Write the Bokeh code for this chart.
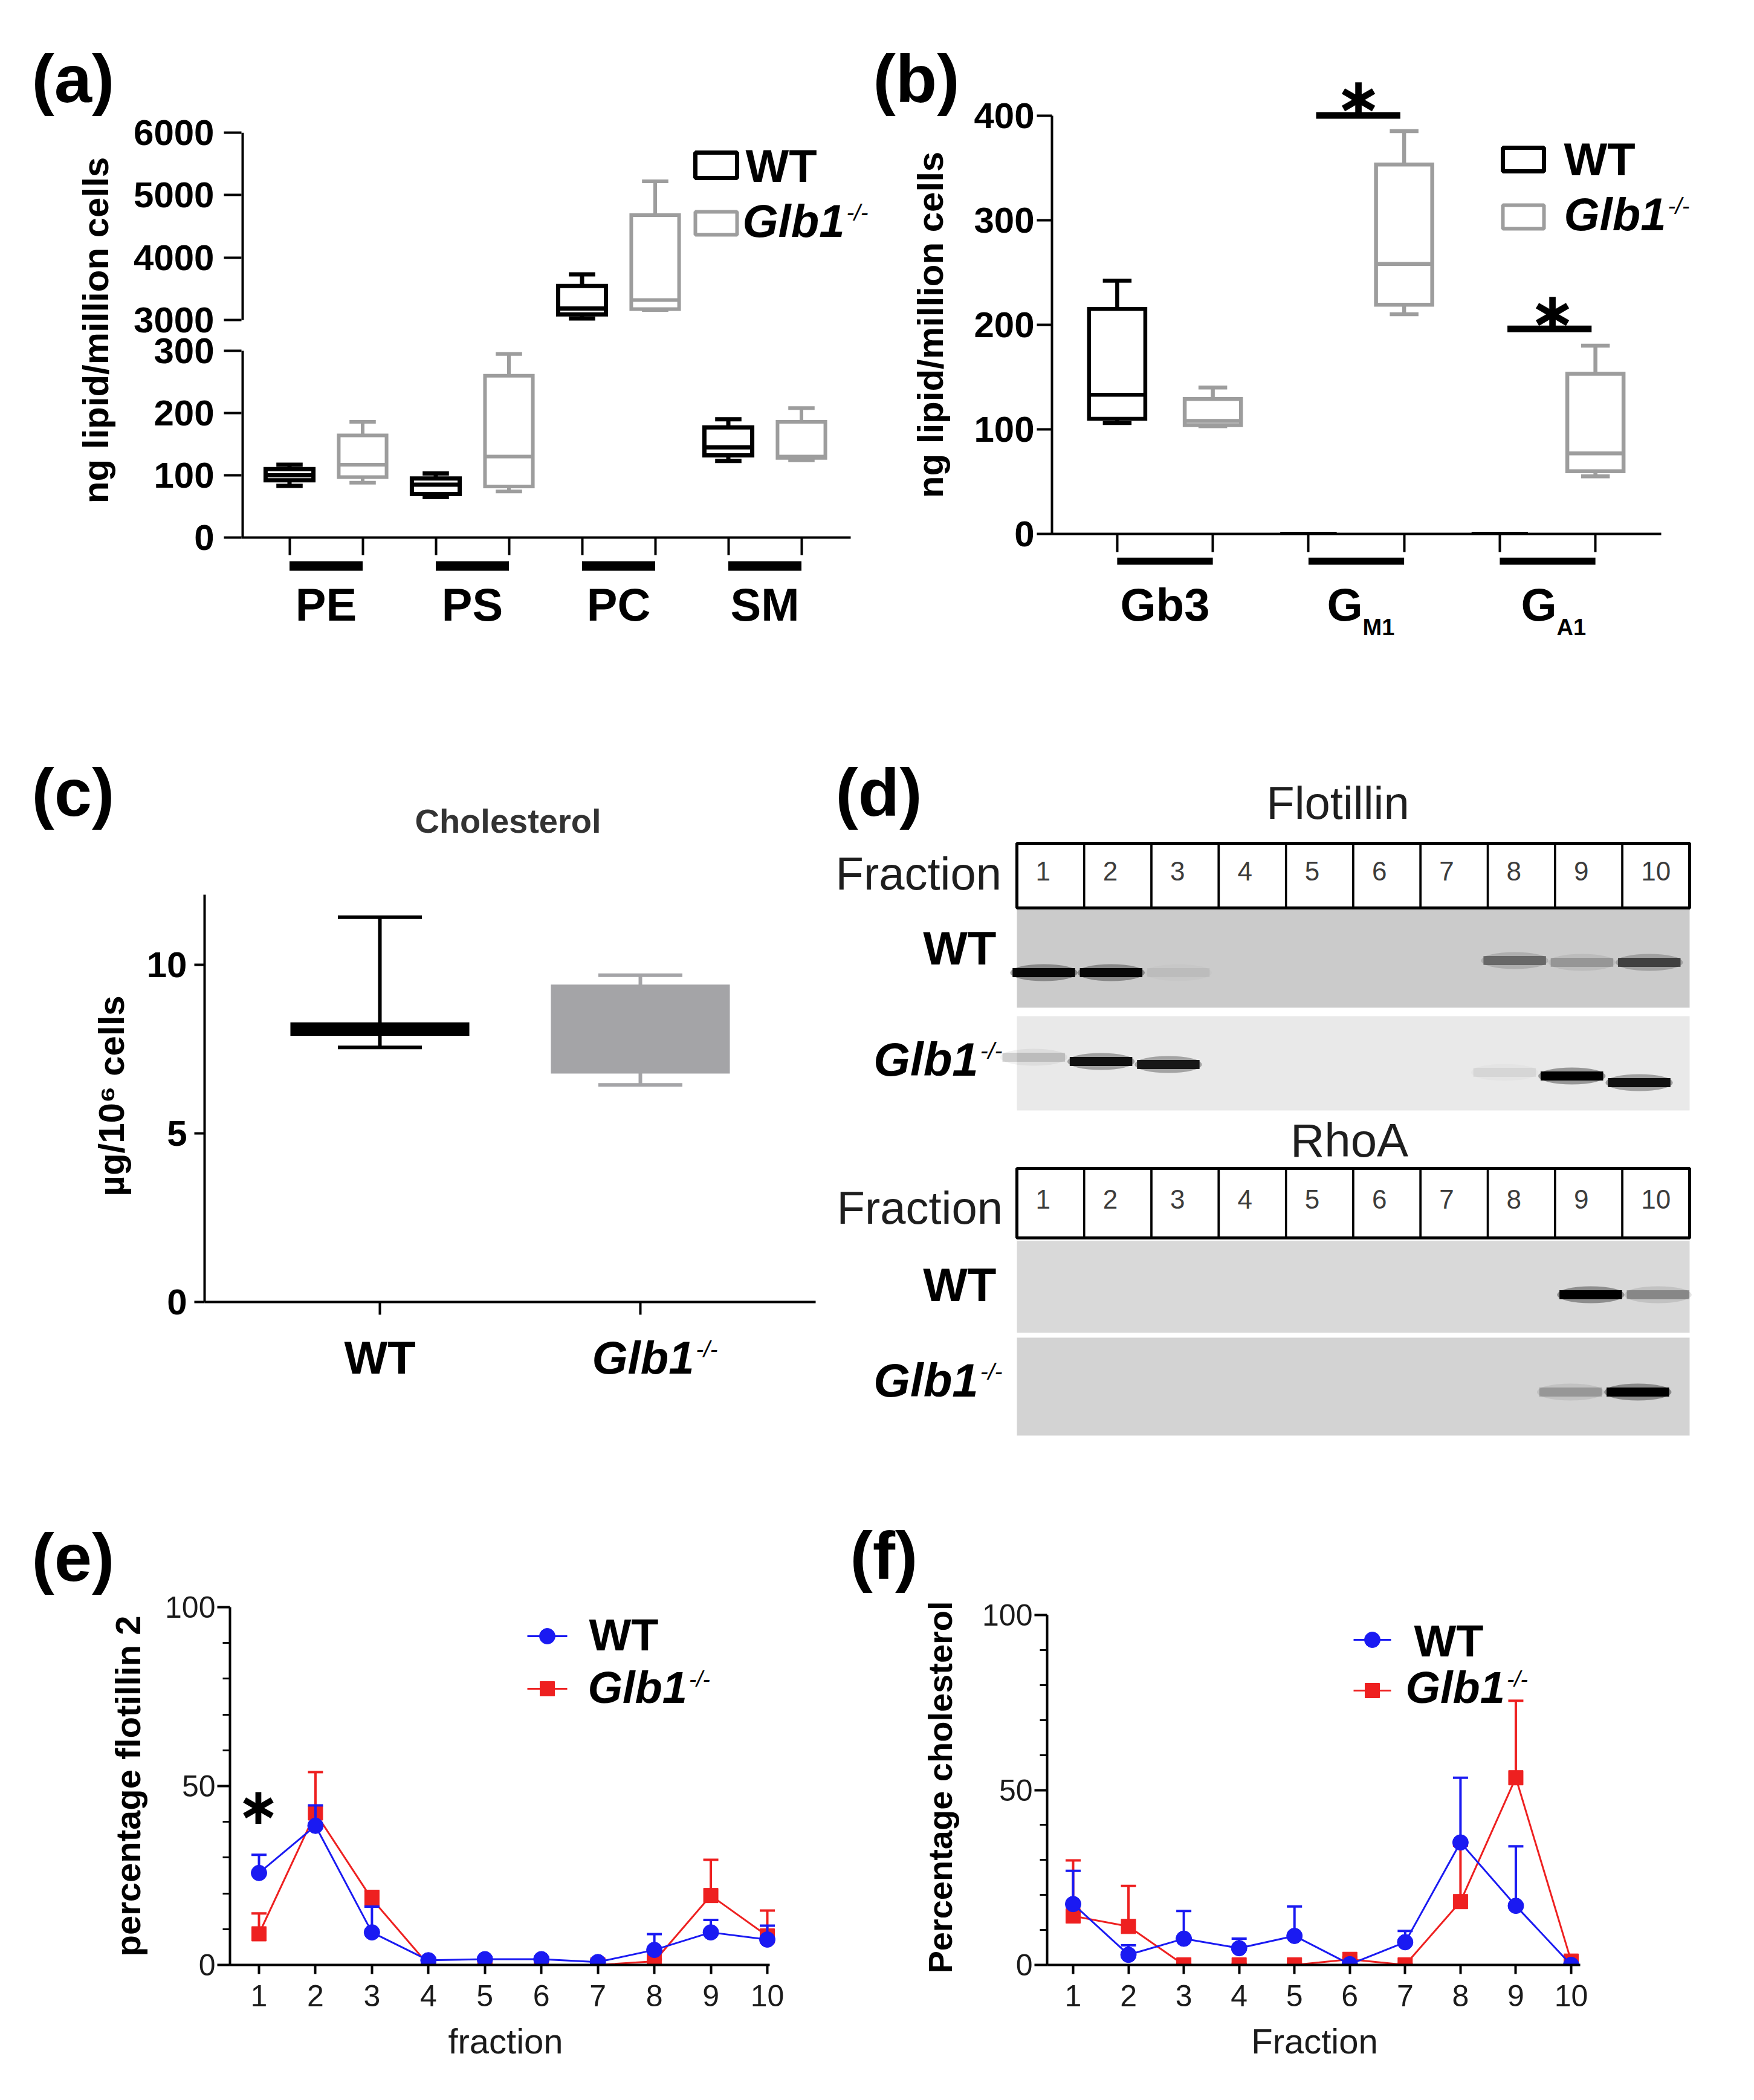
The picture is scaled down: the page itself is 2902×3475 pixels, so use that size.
import numpy as np
from bokeh.plotting import figure
from bokeh.models import Range1d, Label, FixedTicker, ColumnDataSource
from bokeh.layouts import row, column
from bokeh.embed import file_html
from bokeh.resources import INLINE

FONT = "Liberation Sans"
BLACK = "#000000"
GREY = "#9d9d9d"
BOXGREY = "#a4a4a7"
BLUE = "#1a1af2"
RED = "#ee2020"
STAR = "\u2217"

# ============================== DATA ==============================
# (a) phospholipids: five-number summaries (ng lipid / million cells)
lipid_classes = ["PE", "PS", "PC", "SM"]
lipid_wt_min = [83, 65, 3025, 123]
lipid_wt_q1 = [92, 70, 3090, 132]
lipid_wt_med = [100, 85, 3185, 145]
lipid_wt_q3 = [110, 95, 3545, 177]
lipid_wt_max = [117, 103, 3730, 190]
lipid_ko_min = [88, 74, 3160, 124]
lipid_ko_q1 = [97, 82, 3175, 128]
lipid_ko_med = [117, 130, 3320, 130]
lipid_ko_q3 = [164, 260, 4680, 186]
lipid_ko_max = [186, 295, 5220, 208]
lipid_ticks_upper = [3000, 4000, 5000, 6000]
lipid_ticks_lower = [0, 100, 200, 300]

# (b) glycosphingolipids
gsl_wt_min = [106, 0, 0]
gsl_wt_q1 = [110, 0, 0]
gsl_wt_med = [133, 0, 0]
gsl_wt_q3 = [215, 0, 0]
gsl_wt_max = [242, 0, 0]
gsl_ko_min = [103, 210, 55]
gsl_ko_q1 = [104, 219, 60]
gsl_ko_med = [108, 258, 77]
gsl_ko_q3 = [129, 353, 153]
gsl_ko_max = [140, 385, 180]
gsl_ticks = [0, 100, 200, 300, 400]
gsl_sig_groups = [2, 3]
gsl_sig_y = [400, 196]

# (c) cholesterol (ug / 10^6 cells)
chol_min = [7.55, 6.44]
chol_q1 = [7.95, 6.83]
chol_med = [8.10, 8.60]
chol_q3 = [8.24, 9.36]
chol_max = [11.41, 9.69]
chol_ticks = [0, 5, 10]

# (d) western blot band intensities per fraction (0 = none, 1 = strongest)
fractions = [1, 2, 3, 4, 5, 6, 7, 8, 9, 10]
flotillin_wt_band = [0.95, 0.95, 0.05, 0.0, 0.0, 0.0, 0.0, 0.40, 0.20, 0.60]
flotillin_ko_band = [0.15, 0.90, 0.85, 0.0, 0.0, 0.0, 0.0, 0.06, 1.00, 0.90]
rhoa_wt_band = [0.0, 0.0, 0.0, 0.0, 0.0, 0.0, 0.0, 0.0, 1.00, 0.30]
rhoa_ko_band = [0.0, 0.0, 0.0, 0.0, 0.0, 0.0, 0.0, 0.0, 0.22, 1.00]

# (e) percentage flotillin 2 per fraction (mean, upper error)
flot_wt_mean = [25.7, 38.9, 9.1, 1.3, 1.6, 1.6, 0.8, 4.2, 9.1, 7.1]
flot_wt_err = [5.1, 5.7, 7.2, 0.5, 0.5, 0.5, 0.5, 4.4, 3.5, 3.9]
flot_ko_mean = [8.7, 42.5, 18.4, 0.0, 0.0, 0.0, 0.0, 1.0, 19.4, 8.1]
flot_ko_err = [5.7, 11.4, 2.3, 0.3, 0.3, 0.3, 0.3, 0.5, 10.0, 7.1]

# (f) percentage cholesterol per fraction (mean, upper error)
cholf_wt_mean = [17.4, 2.9, 7.5, 4.8, 8.3, 0.2, 6.5, 35.0, 16.9, 0.0]
cholf_wt_err = [9.5, 2.7, 7.9, 2.7, 8.4, 0.5, 3.2, 18.5, 17.0, 0.5]
cholf_ko_mean = [14.0, 11.0, 0.0, 0.0, 0.0, 1.6, 0.0, 18.1, 53.5, 1.1]
cholf_ko_err = [15.9, 11.6, 0.3, 0.3, 0.3, 0.5, 0.3, 16.0, 22.0, 0.8]
pct_ticks = [0, 50, 100]
pct_minor = [10, 20, 30, 40, 60, 70, 80, 90]


# ============================== HELPERS ==============================
class Geo:
    """Frame geometry in page pixels plus the data values at the frame edges."""
    def __init__(s, fx0, fx1, fy0, fy1, x0, x1, y0, y1):
        s.fx0, s.fx1, s.fy0, s.fy1 = fx0, fx1, fy0, fy1
        s.x0, s.x1, s.y0, s.y1 = x0, x1, y0, y1

    def X(s, px):
        return s.x0 + (px - s.fx0) * (s.x1 - s.x0) / (s.fx1 - s.fx0)

    def Y(s, py):
        return s.y0 + (s.fy1 - py) * (s.y1 - s.y0) / (s.fy1 - s.fy0)

    def PX(s, x):
        return s.fx0 + (x - s.x0) * (s.fx1 - s.fx0) / (s.x1 - s.x0)

    def W(s, dpx):
        return dpx * (s.x1 - s.x0) / (s.fx1 - s.fx0)


def make_fig(g, cx0, cx1, cy0, cy1, xaxis=True, yaxis=True):
    p = figure(frame_width=g.fx1 - g.fx0, frame_height=g.fy1 - g.fy0,
               min_border_left=g.fx0 - cx0, min_border_right=cx1 - g.fx1,
               min_border_top=g.fy0 - cy0, min_border_bottom=cy1 - g.fy1,
               x_range=Range1d(g.x0, g.x1), y_range=Range1d(g.y0, g.y1),
               x_axis_location="below" if xaxis else None,
               y_axis_location="left" if yaxis else None,
               output_backend="svg", toolbar_location=None)
    p.outline_line_color = None
    p.xgrid.grid_line_color = None
    p.ygrid.grid_line_color = None
    p.background_fill_color = "white"
    p.border_fill_color = "white"
    return p


def text_fig(cx0, cx1, cy0, cy1):
    g = Geo(cx0, cx1, cy0, cy1, cx0, cx1, cy1, cy0)
    return make_fig(g, cx0, cx1, cy0, cy1, xaxis=False, yaxis=False), g


def style_axis(ax, lw, tick_out, size, bold, standoff, color="black"):
    ax.axis_line_color = "black"
    ax.axis_line_width = lw
    ax.major_tick_line_color = "black"
    ax.major_tick_line_width = lw
    ax.major_tick_out = tick_out
    ax.major_tick_in = 0
    ax.minor_tick_line_color = None
    ax.major_label_text_font = FONT
    ax.major_label_text_font_size = f"{size}px"
    ax.major_label_text_font_style = "bold" if bold else "normal"
    ax.major_label_text_color = color
    ax.major_label_standoff = standoff


def lab(p, g, px, py, text, size, style="normal", align="left",
        baseline="alphabetic", color="black", angle=0.0, font=FONT):
    """Text at page position; for 'alphabetic', py is the baseline."""
    if baseline == "alphabetic":
        py = py - 0.35 * size
        baseline = "middle"
    p.add_layout(Label(x=g.X(px), y=g.Y(py), text=text, text_font=font,
                       text_font_size=f"{size}px", text_font_style=style,
                       text_align=align, text_baseline=baseline,
                       text_color=color, angle=angle))


GLB_EM = 2.223   # advance of "Glb1" in bold italic, in em


def glb(p, g, px_left, py_base, size, color="black"):
    lab(p, g, px_left, py_base, "Glb1", size, "bold italic", color=color)
    lab(p, g, px_left + GLB_EM * size + 3, py_base - 0.36 * size, "-/-",
        0.5 * size, "italic", color=color)


def glb_width(size):
    return GLB_EM * size + 3 + 0.944 * 0.5 * size


def draw_boxes(p, xs, mn, q1, md, q3, mx, color, lw, box_w, cap_w, fill=None,
               **extra):
    hb, hc = box_w / 2, cap_w / 2
    src = ColumnDataSource(dict(
        x=xs, l=[x - hb for x in xs], r=[x + hb for x in xs],
        cl=[x - hc for x in xs], cr=[x + hc for x in xs],
        mn=mn, q1=q1, md=md, q3=q3, mx=mx))
    kw = dict(source=src, line_color=color, line_width=lw, **extra)
    p.segment("x", "q3", "x", "mx", **kw)
    p.segment("x", "q1", "x", "mn", **kw)
    p.segment("cl", "mx", "cr", "mx", **kw)
    p.segment("cl", "mn", "cr", "mn", **kw)
    p.quad(left="l", right="r", bottom="q1", top="q3", fill_color=fill,
           line_join="miter", **kw)
    p.segment("l", "md", "r", "md", **kw)


def draw_series(p, xs, mean, err, color, marker, msize, cap_w):
    top = [m + e for m, e in zip(mean, err)]
    src = ColumnDataSource(dict(x=xs, m=mean, t=top,
                                cl=[x - cap_w / 2 for x in xs],
                                cr=[x + cap_w / 2 for x in xs]))
    p.segment("x", "m", "x", "t", source=src, line_color=color, line_width=4)
    p.segment("cl", "t", "cr", "t", source=src, line_color=color, line_width=4)
    p.line("x", "m", source=src, line_color=color, line_width=3)
    p.scatter("x", "m", source=src, marker=marker, size=msize,
              fill_color=color, line_color=color)


def hidden_label_axis(ax, ticks, tick_out, start, end):
    ax.ticker = FixedTicker(ticks=ticks)
    style_axis(ax, 4, tick_out, 2, True, 0)
    ax.major_label_text_color = None
    ax.bounds = (start, end)


# ============================== (a) ==============================
p_aL, g_aL = text_fig(8, 215, 8, 1150)
lab(p_aL, g_aL, 60, 177, "(a)", 112, "bold")
lab(p_aL, g_aL, 166, 554, "ng lipid/million cells", 60, "bold",
    align="center", baseline="middle", angle=np.pi / 2)

A_PX = 242.0
a_x0 = 1 - (547 - 407) / A_PX
a_x1 = a_x0 + (1450 - 407) / A_PX
a_axis_end = a_x0 + (1415 - 407) / A_PX
lipid_groups = [i + 1 for i in range(len(lipid_classes))]
lipid_wt_x = [g - 0.25 for g in lipid_groups]
lipid_ko_x = [g + 0.25 for g in lipid_groups]

# broken axis: lower segment 0-300 (page 897..588), upper 3000-6000 (537..227)
LO_TOP = 300 * (897 - 227) / (897 - 588)
UP_START = 3000 - 3000 * (897 - 537) / (537 - 227)
g_a = Geo(407, 1450, 227, 897, a_x0, a_x1, 0, LO_TOP)
p_a = make_fig(g_a, 215, 1450, 8, 936)
p_a.extra_y_ranges = {"upper": Range1d(UP_START, 6000)}


def upper_to_lower(v):
    return (v - UP_START) / (6000 - UP_START) * LO_TOP


lo_idx = [i for i, v in enumerate(lipid_wt_max) if v <= 300]
up_idx = [i for i, v in enumerate(lipid_wt_max) if v > 300]
for idx, extra in ((lo_idx, {}), (up_idx, {"y_range_name": "upper"})):
    pick = lambda arr: [arr[i] for i in idx]
    draw_boxes(p_a, pick(lipid_wt_x), pick(lipid_wt_min), pick(lipid_wt_q1),
               pick(lipid_wt_med), pick(lipid_wt_q3), pick(lipid_wt_max),
               BLACK, 7, 0.327, 0.18, **extra)
    draw_boxes(p_a, pick(lipid_ko_x), pick(lipid_ko_min), pick(lipid_ko_q1),
               pick(lipid_ko_med), pick(lipid_ko_q3), pick(lipid_ko_max),
               GREY, 6, 0.327, 0.18, **extra)

ya = p_a.yaxis[0]
up_pos = [upper_to_lower(v) for v in lipid_ticks_upper]
ya.ticker = FixedTicker(ticks=lipid_ticks_lower + up_pos)
ya.major_label_overrides = {pos: str(v) for pos, v in zip(up_pos, lipid_ticks_upper)}
ya.bounds = (0, LO_TOP)
style_axis(ya, 4, 29, 60, True, 16)
ya.axis_line_color = None
# the two axis segments with the break between them
p_a.segment(x0=[a_x0], y0=[0], x1=[a_x0], y1=[300], line_color=BLACK, line_width=8)
p_a.segment(x0=[a_x0], y0=[3000], x1=[a_x0], y1=[6000], line_color=BLACK,
            line_width=8, y_range_name="upper")
hidden_label_axis(p_a.xaxis[0], sorted(lipid_wt_x + lipid_ko_x), 29,
                  a_x0, a_axis_end)

# legend
p_a.quad(left=[g_a.X(1158)], right=[g_a.X(1227)], top=[g_a.Y(260)],
         bottom=[g_a.Y(302)], fill_color=None, line_color=BLACK, line_width=7)
p_a.quad(left=[g_a.X(1158)], right=[g_a.X(1227)], top=[g_a.Y(358)],
         bottom=[g_a.Y(396)], fill_color=None, line_color=GREY, line_width=6)
lab(p_a, g_a, 1241, 309, "WT", 76, "bold")
glb(p_a, g_a, 1236, 400, 76)

# group bars + category names under the axis (same frame columns as above)
g_astr = Geo(407, 1450, 936, 1150, a_x0, a_x1, 1150, 936)
p_astr = make_fig(g_astr, 215, 1450, 936, 1150, xaxis=False, yaxis=False)
bar_a = ColumnDataSource(dict(wx=lipid_wt_x, kx=lipid_ko_x))
p_astr.segment("wx", 944, "kx", 944, source=bar_a, line_color=BLACK, line_width=16)
for gx, name in zip(lipid_groups, lipid_classes):
    lab(p_astr, g_astr, g_astr.PX(gx), 1035, name, 76, "bold", align="center")

# ============================== (b) ==============================
p_bL, g_bL = text_fig(1450, 1600, 8, 1150)
lab(p_bL, g_bL, 1452, 177, "(b)", 112, "bold")
lab(p_bL, g_bL, 1547, 545, "ng lipid/million cells", 60, "bold",
    align="center", baseline="middle", angle=np.pi / 2)

B_PX = 316.5
B_PY = 692.5 / 400
b_x0 = 1 - (1935 - 1748) / B_PX
b_x1 = b_x0 + (2894 - 1748) / B_PX
b_axis_end = b_x0 + (2756 - 1748) / B_PX
gsl_groups = [1, 2, 3]
gsl_wt_x = [g - 0.25 for g in gsl_groups]
gsl_ko_x = [g + 0.25 for g in gsl_groups]

g_b = Geo(1748, 2894, 129, 891, b_x0, b_x1, 0, (891 - 129) / B_PY)
p_b = make_fig(g_b, 1600, 2894, 8, 930)
draw_boxes(p_b, gsl_wt_x, gsl_wt_min, gsl_wt_q1, gsl_wt_med, gsl_wt_q3,
           gsl_wt_max, BLACK, 6.5, 0.294, 0.15)
draw_boxes(p_b, gsl_ko_x, gsl_ko_min, gsl_ko_q1, gsl_ko_med, gsl_ko_q3,
           gsl_ko_max, GREY, 6.5, 0.294, 0.15)
ybb = p_b.yaxis[0]
ybb.ticker = FixedTicker(ticks=gsl_ticks)
ybb.bounds = (0, 400)
style_axis(ybb, 4, 25, 60, True, 4)
hidden_label_axis(p_b.xaxis[0], sorted(gsl_wt_x + gsl_ko_x), 30, b_x0, b_axis_end)

sig = ColumnDataSource(dict(x0=[g - 0.21 for g in gsl_sig_groups],
                            x1=[g + 0.23 for g in gsl_sig_groups],
                            y=gsl_sig_y))
p_b.segment("x0", "y", "x1", "y", source=sig, line_color=BLACK, line_width=11)

p_b.quad(left=[g_b.X(2494)], right=[g_b.X(2562)], top=[g_b.Y(252)],
         bottom=[g_b.Y(291)], fill_color=None, line_color=BLACK, line_width=7)
p_b.quad(left=[g_b.X(2494)], right=[g_b.X(2562)], top=[g_b.Y(347)],
         bottom=[g_b.Y(386)], fill_color=None, line_color=GREY, line_width=6)
lab(p_b, g_b, 2595, 298, "WT", 76, "bold")
glb(p_b, g_b, 2595, 389, 76)
lab(p_b, g_b, 2255, 170, STAR, 92, "bold", align="center", baseline="middle",
    font="DejaVu Sans")
lab(p_b, g_b, 2576, 525, STAR, 92, "bold", align="center", baseline="middle",
    font="DejaVu Sans")

g_bstr = Geo(1748, 2894, 930, 1150, b_x0, b_x1, 1150, 930)
p_bstr = make_fig(g_bstr, 1600, 2894, 930, 1150, xaxis=False, yaxis=False)
bar_b = ColumnDataSource(dict(wx=gsl_wt_x, kx=gsl_ko_x))
p_bstr.segment("wx", 936, "kx", 936, source=bar_b, line_color=BLACK, line_width=12)
lab(p_bstr, g_bstr, g_bstr.PX(1), 1035, "Gb3", 76, "bold", align="center")
lab(p_bstr, g_bstr, 2203, 1035, "G", 76, "bold")
lab(p_bstr, g_bstr, 2262, 1059, "M1", 38, "bold")
lab(p_bstr, g_bstr, 2524, 1035, "G", 76, "bold")
lab(p_bstr, g_bstr, 2583, 1059, "A1", 38, "bold")

# ============================== (c) ==============================
p_cL, g_cL = text_fig(8, 235, 1150, 2460)
lab(p_cL, g_cL, 60, 1358, "(c)", 112, "bold")
lab(p_cL, g_cL, 192, 1821, "\u00b5g/10\u2076 cells", 60, "bold",
    align="center", baseline="middle", angle=np.pi / 2)

C_PX = 431.0
C_PY = (2162 - 1604) / 10.0
c_x0 = 1 - (636 - 346) / C_PX
c_x1 = c_x0 + (1375 - 346) / C_PX
c_axis_end = c_x0 + (1357 - 346) / C_PX
g_c = Geo(346, 1375, 1290, 2162, c_x0, c_x1, 0, (2162 - 1290) / C_PY)
p_c = make_fig(g_c, 235, 1375, 1150, 2212)
draw_boxes(p_c, [1], [chol_min[0]], [chol_q1[0]], [chol_med[0]], [chol_q3[0]],
           [chol_max[0]], BLACK, 6, 0.673, 0.3225, fill=BLACK)
draw_boxes(p_c, [2], [chol_min[1]], [chol_q1[1]], [chol_med[1]], [chol_q3[1]],
           [chol_max[1]], BOXGREY, 6, 0.673, 0.3225, fill=BOXGREY)
ycc = p_c.yaxis[0]
ycc.ticker = FixedTicker(ticks=chol_ticks)
ycc.bounds = (0, (2162 - 1488) / C_PY)
style_axis(ycc, 4, 17, 60, True, 12)
hidden_label_axis(p_c.xaxis[0], [1, 2], 21, c_x0, c_axis_end)
lab(p_c, g_c, 848, 1386, "Cholesterol", 56, "bold", align="center", color="#333333")

g_cstr = Geo(346, 1375, 2212, 2460, c_x0, c_x1, 2460, 2212)
p_cstr = make_fig(g_cstr, 235, 1375, 2212, 2460, xaxis=False, yaxis=False)
lab(p_cstr, g_cstr, g_cstr.PX(1), 2281, "WT", 76, "bold", align="center")
glb(p_cstr, g_cstr, 987, 2281, 76)

# ============================== (d) ==============================
CELL = 111.3
g_d = Geo(1375, 2894, 1150, 2460, 0.5 - (1690 - 1375) / CELL,
          0.5 + (2894 - 1690) / CELL, 2460, 1150)
p_d = make_fig(g_d, 1375, 2894, 1150, 2460, xaxis=False, yaxis=False)

lanes = [  # (top, bottom, colour, lane x shift, band y, intensities)
    (1513, 1675, "#cbcbcb", -0.10, [1617, 1617, 1617, 1615, 1612, 1608, 1604, 1597, 1600, 1600], flotillin_wt_band),
    (1689, 1845, "#e9e9e9", -0.25, [1757, 1764, 1769, 1772, 1775, 1777, 1779, 1782, 1788, 1799], flotillin_ko_band),
    (2061, 2213, "#d9d9d9", 0.03, [2150] * 10, rhoa_wt_band),
    (2221, 2383, "#d3d3d3", -0.27, [2311] * 10, rhoa_ko_band),
]
for top, bot, col, shift, ys, inten in lanes:
    p_d.quad(left=[0.5], right=[10.5], top=[top], bottom=[bot],
             fill_color=col, line_color=None)
    src = ColumnDataSource(dict(x=[f + shift for f in fractions], y=ys,
                                a=inten, a2=[0.35 * v for v in inten]))
    p_d.ellipse(x="x", y="y", width=1.0, height=28, source=src,
                fill_color="black", fill_alpha="a2", line_color=None)
    p_d.rect(x="x", y="y", width=0.93, height=15, source=src,
             fill_color="black", fill_alpha="a", line_color=None)

for ttop, tbot, nbase in ((1403, 1510, 1464), (1941, 2056, 2007)):
    cells = ColumnDataSource(dict(l=[f - 0.5 for f in fractions],
                                  r=[f + 0.5 for f in fractions]))
    p_d.quad(left="l", right="r", top=ttop, bottom=tbot, source=cells,
             fill_color="white", line_color="black", line_width=3.5)
    p_d.quad(left=[0.5], right=[10.5], top=[ttop], bottom=[tbot],
             fill_color=None, line_color="black", line_width=5)
    for f in fractions:
        lab(p_d, g_d, g_d.PX(f - 0.5) + 31, nbase, str(f), 44, color="#3c3c3c")

lab(p_d, g_d, 1390, 1358, "(d)", 112, "bold")
lab(p_d, g_d, 2221, 1363, "Flotillin", 76, align="center", color="#1e1e1e")
lab(p_d, g_d, 2240, 1922, "RhoA", 78, align="center", color="#1e1e1e")
lab(p_d, g_d, 1390, 1480, "Fraction", 76, color="#1e1e1e")
lab(p_d, g_d, 1392, 2033, "Fraction", 76, color="#1e1e1e")
lab(p_d, g_d, 1656, 1604, "WT", 78, "bold", align="right")
lab(p_d, g_d, 1656, 2161, "WT", 78, "bold", align="right")
glb(p_d, g_d, 1666 - glb_width(78), 1788, 78)
glb(p_d, g_d, 1666 - glb_width(78), 2319, 78)


# ============================== (e), (f) ==============================
def line_panel(g, cx0, cx1, axis_end, xlabel, wt_mean, wt_err, ko_mean, ko_err):
    p = make_fig(g, cx0, cx1, 2460, 3467)
    cap = g.W(25)
    draw_series(p, fractions, ko_mean, ko_err, RED, "square", 24, cap)
    draw_series(p, fractions, wt_mean, wt_err, BLUE, "circle", 26, cap)
    ya = p.yaxis[0]
    ya.ticker = FixedTicker(ticks=pct_ticks, minor_ticks=pct_minor)
    style_axis(ya, 4, 21, 50, False, 3, color="#1a1a1a")
    ya.minor_tick_line_color = "black"
    ya.minor_tick_line_width = 3
    ya.minor_tick_out = 12
    ya.minor_tick_in = 0
    xa = p.xaxis[0]
    xa.ticker = FixedTicker(ticks=fractions)
    xa.bounds = (g.x0, axis_end)
    style_axis(xa, 4, 15, 50, False, 18, color="#1a1a1a")
    xa.axis_label = xlabel
    xa.axis_label_text_font = FONT
    xa.axis_label_text_font_size = "58px"
    xa.axis_label_text_font_style = "normal"
    xa.axis_label_text_color = "#1a1a1a"
    xa.axis_label_standoff = 22
    return p


p_eL, g_eL = text_fig(8, 258, 2460, 3467)
lab(p_eL, g_eL, 60, 2624, "(e)", 112, "bold")
lab(p_eL, g_eL, 219, 2963, "percentage flotillin 2", 58, "bold",
    align="center", baseline="middle", angle=np.pi / 2)

E_PX = (1277 - 436) / 9.0
e_x0 = 1 - (436 - 388) / E_PX
g_e = Geo(388, 1300, 2667, 3259, e_x0, e_x0 + (1300 - 388) / E_PX, 0, 100)
p_e = line_panel(g_e, 258, 1400, 10 + 4 / E_PX, "fraction",
                 flot_wt_mean, flot_wt_err, flot_ko_mean, flot_ko_err)
p_e.line([g_e.X(880), g_e.X(946)], [g_e.Y(2715)] * 2, line_color=BLUE, line_width=3)
p_e.scatter([g_e.X(913)], [g_e.Y(2715)], marker="circle", size=26, color=BLUE)
p_e.line([g_e.X(880), g_e.X(946)], [g_e.Y(2802)] * 2, line_color=RED, line_width=3)
p_e.scatter([g_e.X(913)], [g_e.Y(2802)], marker="square", size=24, color=RED)
lab(p_e, g_e, 982, 2739, "WT", 74, "bold")
glb(p_e, g_e, 980, 2826, 74)
lab(p_e, g_e, 435, 2996, STAR, 84, "bold", align="center", baseline="middle",
    font="DejaVu Sans")

p_fL, g_fL = text_fig(1400, 1612, 2460, 3467)
lab(p_fL, g_fL, 1414, 2621, "(f)", 112, "bold")
lab(p_fL, g_fL, 1563, 2965, "Percentage cholesterol", 56, "bold",
    align="center", baseline="middle", angle=np.pi / 2)

F_PX = (2607 - 1783) / 9.0
f_x0 = 1 - (1783 - 1740) / F_PX
g_f = Geo(1740, 2625, 2680, 3259, f_x0, f_x0 + (2625 - 1740) / F_PX, 0, 100)
p_f = line_panel(g_f, 1612, 2894, 10 + 15 / F_PX, "Fraction",
                 cholf_wt_mean, cholf_wt_err, cholf_ko_mean, cholf_ko_err)
p_f.line([g_f.X(2247), g_f.X(2309)], [g_f.Y(2721)] * 2, line_color=BLUE, line_width=3)
p_f.scatter([g_f.X(2278)], [g_f.Y(2721)], marker="circle", size=26, color=BLUE)
p_f.line([g_f.X(2247), g_f.X(2309)], [g_f.Y(2805)] * 2, line_color=RED, line_width=3)
p_f.scatter([g_f.X(2278)], [g_f.Y(2805)], marker="square", size=24, color=RED)
lab(p_f, g_f, 2347, 2749, "WT", 74, "bold")
glb(p_f, g_f, 2333, 2826, 74)

# ============================== LAYOUT ==============================
layout = column(
    row(column(p_aL), column(p_a, p_astr),
        column(p_bL), column(p_b, p_bstr)),
    row(column(p_cL), column(p_c, p_cstr), column(p_d)),
    row(column(p_eL), column(p_e), column(p_fL), column(p_f)),
)

open("out.html", "w").write(file_html(layout, INLINE, title="Lipid rafts"))
